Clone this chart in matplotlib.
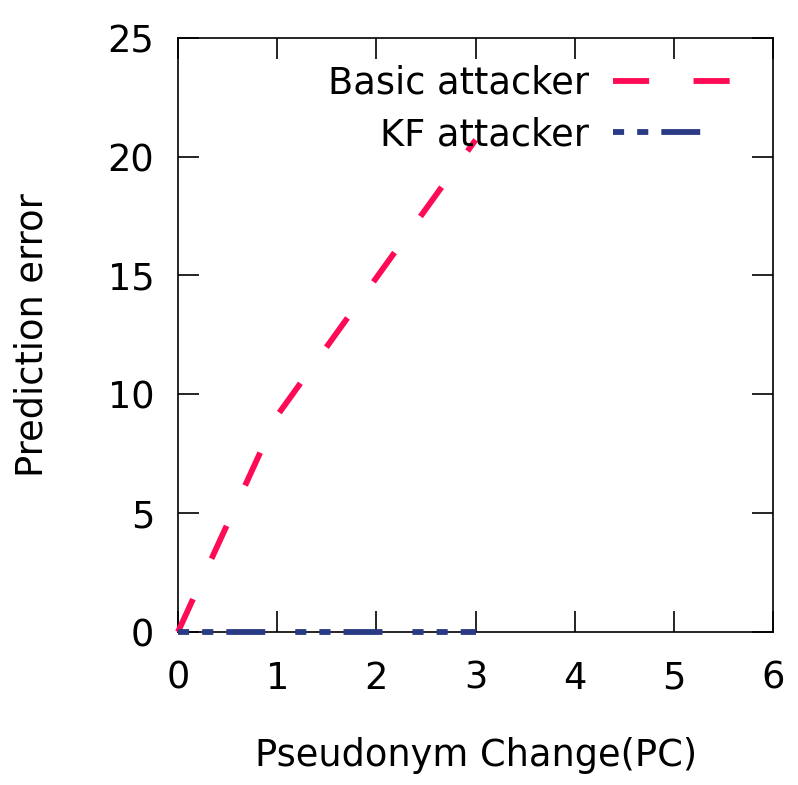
import matplotlib
matplotlib.use("Agg")
import matplotlib.pyplot as plt

# Data
pc = [0, 1, 2, 3]
basic_attacker = [0, 9.1, 14.9, 20.7]
kf_attacker = [0, 0, 0, 0]
x_ticks = [0, 1, 2, 3, 4, 5, 6]
y_ticks = [0, 5, 10, 15, 20, 25]

plt.rcParams['font.family'] = ['DejaVu Sans']
plt.rcParams['lines.scale_dashes'] = False

FS = 26.5

fig = plt.figure(figsize=(7.98, 7.85), dpi=100)
ax = fig.add_axes([0.223, 0.195, 0.746, 0.757])

ax.plot(pc, basic_attacker, color='#ff0a54', lw=4.2, dashes=(26, 32),
        label='Basic attacker', dash_capstyle='butt', clip_on=False, zorder=4)
ax.plot(pc, kf_attacker, color='#2b3a85', lw=4.2, dashes=(8, 9.4, 8, 9.4, 28, 21.6),
        label='KF attacker', dash_capstyle='butt', clip_on=False, zorder=5)

ax.set_xlim(0, 6)
ax.set_ylim(0, 25)
ax.set_xticks(x_ticks)
ax.set_yticks(y_ticks)
ax.tick_params(direction='in', length=15, width=1.2, top=True, right=True,
               labelsize=FS)
ax.tick_params(axis='x', pad=20)
ax.tick_params(axis='y', pad=17)
for s in ax.spines.values():
    s.set_linewidth(1.2)

ax.set_xlabel('Pseudonym Change(PC)', fontsize=FS, labelpad=29)
ax.set_ylabel('Prediction error', fontsize=FS, labelpad=41)

leg = ax.legend(loc='upper right', bbox_to_anchor=(0.928, 0.955),
                frameon=False, markerfirst=False, fontsize=FS,
                handlelength=3.2, handletextpad=0.65, labelspacing=0.40,
                borderaxespad=0, borderpad=0)
for t in leg.get_texts():
    t.set_ha('right')

fig.savefig('out.png', dpi=100)
